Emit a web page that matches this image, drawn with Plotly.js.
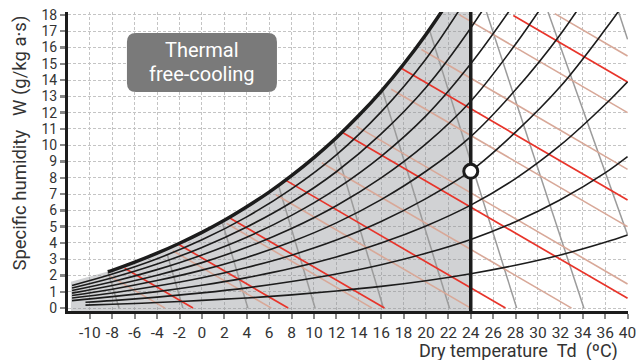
<!DOCTYPE html>
<html>
<head>
<meta charset="utf-8">
<script src="https://cdn.plot.ly/plotly-3.0.1.min.js"></script>
<style>html,body{margin:0;padding:0;background:#fff;}#chart{width:637px;height:360px;}</style>
</head>
<body>
<div id="chart"></div>
<script>
// ---- data ----
// x tick positions and labels (dry temperature, °C)
const xTickVals = [-10,-8,-6,-4,-2,0,2,4,6,8,10,12,14,16,18,20,22,24,26,28,30,32,34,36,38];
const xTickText = ["-10","-8","-6","-4","-2","0","2","4","6","8","10","12","14","16","18","20","22","24","26","28","30","32","34","36","40"];
const yTickVals = [0,1,2,3,4,5,6,7,8,9,10,11,12,13,14,15,16,17,18];

// saturation curve (thick)
const satT = [-8.4,-8,-6,-4,-2,0,2,4,6,8,10,12,14,16,18,20,22];
const satW = [2.23,2.32,2.82,3.37,3.98,4.65,5.39,6.22,7.12,8.13,9.24,10.46,11.82,13.31,14.97,16.80,18.82];

// shaded free-cooling zone outline
const zoneT = [-11.7,-8.4,-8,-6,-4,-2,0,2,4,6,8,10,12,14,16,18,20,21.4,24,24,-11.7];
const zoneW = [1.62,2.23,2.32,2.82,3.37,3.98,4.65,5.39,6.22,7.12,8.13,9.24,10.46,11.82,13.31,14.97,16.80,18.18,18.18,-0.2,-0.2];

// relative humidity curves 10% ... 90%
const rhT = [-11.6,-8,-4,0,4,8,12,16,20,24,28,32,36,38];
const rhTShort = [-10.4,-8,-4,0,4,8,12,16,20,24,28,32,36,38];
const rh10 = [0.18,0.23,0.34,0.47,0.62,0.81,1.05,1.33,1.68,2.11,2.63,3.26,4.04,4.49];
const rh20 = [0.36,0.46,0.67,0.93,1.24,1.63,2.09,2.66,3.36,4.21,5.30,6.65,8.30,9.30];
const rh30 = [0.46,0.70,1.01,1.40,1.87,2.44,3.14,3.99,5.04,6.32,7.95,10.0,12.5,13.9];
const rh40 = [0.62,0.93,1.35,1.86,2.49,3.25,4.18,5.32,6.72,8.42,10.8,13.6,17.1,19.0];
const rh50 = [0.77,1.16,1.69,2.33,3.11,4.07,5.23,6.66,8.40,10.53,13.4,16.8,20.9];
const rh60 = [0.92,1.39,2.02,2.79,3.73,4.88,6.28,7.99,10.08,12.7,16.2,20.2];
const rh70 = [1.08,1.62,2.36,3.26,4.35,5.69,7.32,9.32,11.8,15.0,18.8];
const rh80 = [1.23,1.86,2.70,3.72,4.98,6.50,8.37,10.7,13.55,17.2,21.5];
const rh90 = [1.39,2.09,3.03,4.19,5.60,7.32,9.41,12.05,15.3,19.4];

// red lines (start on saturation curve)
const redStartT = [-6.9,-2.1,2.45,7.5,12.55,17.75,27.8];
const redStartW = [2.44,3.92,5.54,7.84,10.78,14.74,17.96];
const redEndT   = [-0.8,7.7,16.3,27.1,38,38,38];
const redEndW   = [0,0,0,0,0.6,6.64,13.88];

// pale brown lines
const pinkStartT = [-8.2,-2.6,2.2,6.6,10.7,13.8,16.9,19.6,23.0,31.5];
const pinkStartW = [1.96,3.52,5.2,6.96,8.92,11.16,13.44,15.88,18.0,18.08];
const pinkEndT   = [-3.3,6.2,15.2,24,33,38,38,38,38,38];
const pinkEndW   = [0,0,0,0,0,1.48,5.0,8.52,12.0,15.48];

// grey steep lines
const grayStartT = [-8.4,-3.1,1.8,6.85,11.75,16.1,20.3,25.4,30.9,37.2];
const grayStartW = [2.23,3.3,5.3,7.5,10.3,13.4,17.1,18.18,18.18,18.18];
const grayEndT   = [-7.4,-1.7,4.1,10.1,16.2,22.1,28.1,34.1,38,38];
const grayEndW   = [0,0,0,0,0,0,0,0,4.5,16.5];

// free-cooling limit and reference point
const limitT = [24,24];
const limitW = [-0.2,18.3];
const pointT = [24];
const pointW = [8.4];

// ---- build traces ----
function segs(st, sw, et, ew){
  const x=[], y=[];
  for(let i=0;i<st.length;i++){ x.push(st[i], et[i], null); y.push(sw[i], ew[i], null); }
  return {x, y};
}
const reds = segs(redStartT, redStartW, redEndT, redEndW);
const pinks = segs(pinkStartT, pinkStartW, pinkEndT, pinkEndW);
const grays = segs(grayStartT, grayStartW, grayEndT, grayEndW);

const traces = [];
traces.push({x: zoneT, y: zoneW, mode:'lines', fill:'toself', fillcolor:'rgba(140,142,148,0.40)', line:{width:0}, hoverinfo:'skip'});
traces.push({x: grays.x, y: grays.y, mode:'lines', line:{color:'#9b9b9b', width:1.5}, connectgaps:false});
traces.push({x: pinks.x, y: pinks.y, mode:'lines', line:{color:'#d8a898', width:1.6}, connectgaps:false});
traces.push({x: reds.x, y: reds.y, mode:'lines', line:{color:'#e8342a', width:1.7}, connectgaps:false});
const rhSets = [[rhTShort,rh10],[rhTShort,rh20],[rhT,rh30],[rhT,rh40],[rhT,rh50],[rhT,rh60],[rhT,rh70],[rhT,rh80],[rhT,rh90]];
rhSets.forEach(([t,w]) => {
  traces.push({x: t.slice(0, w.length), y: w, mode:'lines', line:{color:'#1c1c1c', width:1.6, shape:'spline'}});
});
traces.push({x: satT, y: satW, mode:'lines', line:{color:'#1c1c1c', width:3.5, shape:'spline'}});
traces.push({x: limitT, y: limitW, mode:'lines', line:{color:'#1c1c1c', width:3.5}});
traces.push({x: pointT, y: pointW, mode:'markers', marker:{symbol:'circle', size:14, color:'#ffffff', line:{color:'#1c1c1c', width:3}}});

const fontFam = 'Roboto, "Open Sans", "DejaVu Sans", sans-serif';

const layout = {
  width: 637, height: 360,
  margin: {l:68, r:9, t:12, b:49},
  paper_bgcolor:'#ffffff', plot_bgcolor:'#ffffff',
  showlegend:false,
  font:{family: fontFam, color:'#333333', size:14},
  xaxis:{
    range:[-11.96, 38.04], tickmode:'array', tickvals:xTickVals, ticktext:xTickText,
    showgrid:true, gridcolor:'#c4c4c4', griddash:'3px,2px', gridwidth:1,
    zeroline:false, showline:true, linecolor:'#1c1c1c', linewidth:3,
    ticks:'outside', ticklen:5, tickwidth:2, tickcolor:'#888888',
    tickfont:{size:15.5, color:'#333333', family:fontFam}, fixedrange:true
  },
  yaxis:{
    range:[-0.18, 18.18], tickmode:'array', tickvals:yTickVals,
    showgrid:true, gridcolor:'#c4c4c4', griddash:'3px,2px', gridwidth:1,
    zeroline:false, showline:true, linecolor:'#1c1c1c', linewidth:3,
    ticks:'outside', ticklen:5, tickwidth:2.5, tickcolor:'#888888',
    tickfont:{size:14, color:'#333333', family:fontFam}, fixedrange:true
  },
  shapes:[{
    type:'path', layer:'above', xref:'x', yref:'y',
    xsizemode:'pixel', ysizemode:'pixel', xanchor:0, yanchor:15.08,
    path:'M -66 -29.5 L 66 -29.5 Q 75 -29.5 75 -20.5 L 75 20.5 Q 75 29.5 66 29.5 L -66 29.5 Q -75 29.5 -75 20.5 L -75 -20.5 Q -75 -29.5 -66 -29.5 Z',
    fillcolor:'#7a7a7a', line:{width:0}
  }],
  annotations:[
    {text:'Thermal', x:0, y:15.85, xref:'x', yref:'y', showarrow:false,
     font:{size:20, color:'#ffffff', family:fontFam}, xanchor:'center', yanchor:'middle'},
    {text:'free-cooling', x:0, y:14.37, xref:'x', yref:'y', showarrow:false,
     font:{size:20, color:'#ffffff', family:fontFam}, xanchor:'center', yanchor:'middle'},
    {text:'Specific humidity\u00a0\u00a0\u00a0W (g/kg a·s)', xref:'paper', yref:'paper', x:-0.0857, y:0.56,
     textangle:-90, showarrow:false, xanchor:'center', yanchor:'middle', font:{size:18.5, color:'#333333', family:fontFam}},
    {text:'Dry temperature\u00a0\u00a0Td\u00a0\u00a0(ºC)', xref:'paper', yref:'paper', x:0.9857, y:-0.1338,
     showarrow:false, xanchor:'right', yanchor:'middle', font:{size:18, color:'#333333', family:fontFam}}
  ]
};

Plotly.newPlot('chart', traces, layout, {staticPlot:true, displayModeBar:false});
</script>
</body>
</html>
